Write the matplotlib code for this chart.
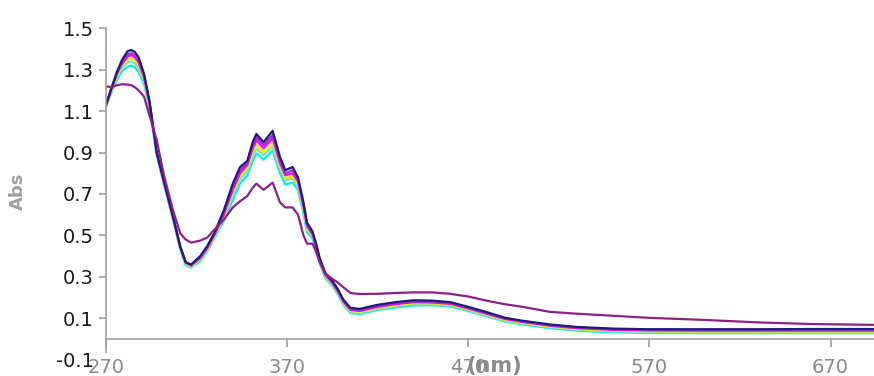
import matplotlib
matplotlib.use("Agg")
import matplotlib.pyplot as plt

plt.rcParams['font.family'] = ['DejaVu Sans']

# wavelength grid (nm)
wl = [270, 273, 276, 279, 282, 284, 286, 288, 291, 294, 298, 302, 307, 311, 314, 317,
      322, 326, 330, 335, 340, 344, 348, 351, 353, 357, 362, 366, 369, 373, 376, 379,
      381, 384, 386, 388, 391, 395, 398, 401, 405, 410, 420, 430, 440, 450, 460, 470,
      480, 490, 500, 515, 530, 550, 570, 600, 630, 660, 695]

abs_navy = [1.13, 1.21, 1.29, 1.35, 1.39, 1.395, 1.385, 1.36, 1.28, 1.15, 0.90, 0.76, 0.59, 0.445, 0.37, 0.36,
            0.40, 0.45, 0.515, 0.62, 0.75, 0.83, 0.86, 0.95, 0.99, 0.95, 1.005, 0.88, 0.815, 0.83, 0.78, 0.66,
            0.56, 0.52, 0.46, 0.39, 0.32, 0.28, 0.24, 0.19, 0.15, 0.145, 0.165, 0.178, 0.187, 0.185, 0.178, 0.155,
            0.13, 0.103, 0.088, 0.07, 0.058, 0.05, 0.047, 0.047, 0.047, 0.048, 0.048]
abs_violet = [1.13, 1.21, 1.28, 1.34, 1.375, 1.38, 1.37, 1.345, 1.27, 1.14, 0.90, 0.76, 0.59, 0.445, 0.37, 0.355,
              0.395, 0.445, 0.51, 0.61, 0.735, 0.815, 0.85, 0.935, 0.975, 0.935, 0.985, 0.865, 0.80, 0.815, 0.77, 0.65,
              0.55, 0.51, 0.45, 0.385, 0.315, 0.275, 0.235, 0.185, 0.145, 0.14, 0.16, 0.173, 0.182, 0.18, 0.173, 0.15,
              0.125, 0.10, 0.085, 0.067, 0.055, 0.047, 0.044, 0.043, 0.043, 0.043, 0.043]
abs_magenta = [1.13, 1.21, 1.28, 1.33, 1.365, 1.37, 1.36, 1.335, 1.265, 1.14, 0.90, 0.76, 0.59, 0.445, 0.37, 0.355,
               0.39, 0.44, 0.505, 0.60, 0.72, 0.80, 0.84, 0.92, 0.96, 0.92, 0.97, 0.85, 0.79, 0.80, 0.76, 0.64,
               0.545, 0.505, 0.445, 0.38, 0.31, 0.27, 0.23, 0.18, 0.14, 0.135, 0.155, 0.168, 0.178, 0.176, 0.17, 0.147,
               0.122, 0.097, 0.082, 0.064, 0.052, 0.044, 0.041, 0.04, 0.04, 0.04, 0.04]
abs_yellow = [1.125, 1.20, 1.27, 1.32, 1.35, 1.355, 1.345, 1.32, 1.255, 1.135, 0.895, 0.755, 0.585, 0.44, 0.365, 0.35,
              0.385, 0.435, 0.50, 0.59, 0.705, 0.785, 0.825, 0.90, 0.94, 0.90, 0.95, 0.835, 0.775, 0.785, 0.745, 0.63,
              0.535, 0.50, 0.44, 0.375, 0.305, 0.265, 0.225, 0.175, 0.135, 0.13, 0.15, 0.163, 0.173, 0.172, 0.166, 0.143,
              0.118, 0.093, 0.078, 0.06, 0.048, 0.04, 0.037, 0.036, 0.036, 0.036, 0.036]
abs_turq = [1.12, 1.19, 1.26, 1.31, 1.335, 1.34, 1.33, 1.305, 1.245, 1.13, 0.89, 0.75, 0.58, 0.435, 0.36, 0.348,
            0.38, 0.43, 0.495, 0.58, 0.69, 0.77, 0.81, 0.88, 0.92, 0.885, 0.93, 0.82, 0.765, 0.775, 0.735, 0.62,
            0.525, 0.495, 0.435, 0.37, 0.30, 0.26, 0.22, 0.17, 0.13, 0.125, 0.145, 0.158, 0.168, 0.168, 0.162, 0.139,
            0.114, 0.089, 0.074, 0.056, 0.044, 0.036, 0.033, 0.032, 0.032, 0.032, 0.032]
abs_cyan = [1.12, 1.19, 1.25, 1.295, 1.315, 1.32, 1.31, 1.29, 1.23, 1.12, 0.885, 0.745, 0.575, 0.43, 0.355, 0.345,
            0.375, 0.425, 0.49, 0.57, 0.67, 0.75, 0.79, 0.86, 0.895, 0.865, 0.91, 0.80, 0.745, 0.755, 0.72, 0.605,
            0.515, 0.485, 0.43, 0.365, 0.295, 0.255, 0.215, 0.165, 0.125, 0.12, 0.14, 0.152, 0.162, 0.163, 0.157, 0.135,
            0.11, 0.085, 0.07, 0.052, 0.04, 0.032, 0.029, 0.028, 0.028, 0.028, 0.028]
abs_purple = [1.22, 1.215, 1.225, 1.23, 1.228, 1.225, 1.215, 1.20, 1.17, 1.08, 0.96, 0.79, 0.62, 0.51, 0.48, 0.465,
              0.475, 0.49, 0.53, 0.575, 0.635, 0.665, 0.69, 0.73, 0.75, 0.72, 0.755, 0.66, 0.635, 0.635, 0.60, 0.50,
              0.46, 0.46, 0.42, 0.37, 0.315, 0.29, 0.272, 0.25, 0.222, 0.217, 0.218, 0.222, 0.225, 0.225, 0.218, 0.205,
              0.185, 0.168, 0.155, 0.131, 0.122, 0.112, 0.102, 0.092, 0.08, 0.072, 0.068]

series = [abs_cyan, abs_turq, abs_yellow, abs_magenta, abs_violet, abs_navy, abs_purple]
colors = ['#00f0f0', '#80dccc', '#f8ec00', '#ff00ff', '#a030d0', '#1c1c78', '#8c2088']

yticks = [-0.1, 0.1, 0.3, 0.5, 0.7, 0.9, 1.1, 1.3, 1.5]
xticks = [270, 370, 470, 570, 670]

fig = plt.figure(figsize=(8.74, 3.76), dpi=100)
ax = fig.add_axes([0.1213, 0.0434, 0.8787, 0.8814])

for s, col in zip(series, colors):
    ax.plot(wl, s, color=col, linewidth=1.6)

ax.set_xlim(270, 694)
ax.set_ylim(-0.1, 1.5)
ax.set_yticks(yticks)
ax.set_yticklabels(['%.1f' % v for v in yticks])
ax.set_xticks(xticks)

ax.spines['top'].set_visible(False)
ax.spines['right'].set_visible(False)
ax.spines['bottom'].set_position(('data', 0))
ax.spines['left'].set_bounds(-0.065, 1.5)
for sp in ['left', 'bottom']:
    ax.spines[sp].set_color('#a0a0a0')
    ax.spines[sp].set_linewidth(1.2)

ax.tick_params(axis='y', colors='#a0a0a0', labelcolor='#1a1a1a', labelsize=14,
               length=5, width=1.2, pad=4)
ax.tick_params(axis='x', colors='#a0a0a0', labelcolor='#8a8a8a', labelsize=14,
               length=6, width=1.2, pad=8)
ax.yaxis.get_major_ticks()[0].tick1line.set_visible(False)

ax.set_ylabel('Abs', color='#a0a0a0', fontsize=13, fontweight='bold')
ax.yaxis.set_label_coords(-0.103, 0.509)
fig.text(494 / 874, 1 - 366 / 376, '(nm)', color='#8a8a8a', fontsize=15,
         fontweight='bold', ha='center', va='center')

fig.savefig('out.png', dpi=100)
